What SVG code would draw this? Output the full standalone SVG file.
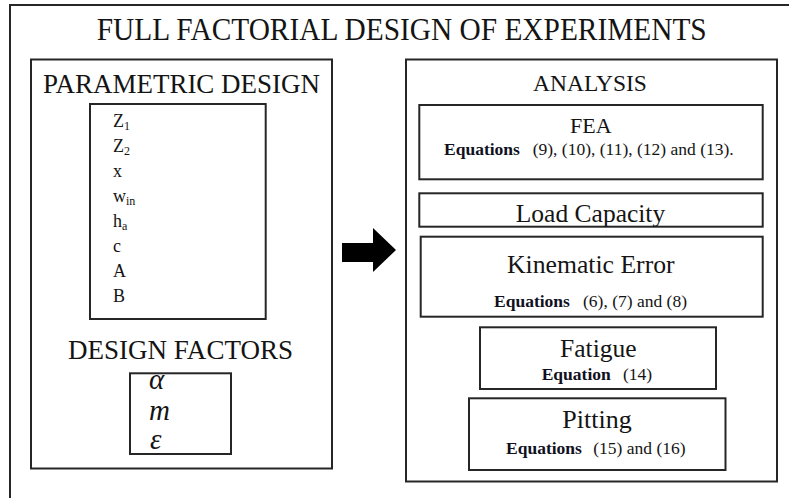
<svg xmlns="http://www.w3.org/2000/svg" width="789" height="498" viewBox="0 0 789 498">
<style>
.box{fill:none;stroke:#262626;stroke-width:2}
text{font-family:'Liberation Serif','Tinos','Times New Roman','DejaVu Serif',serif;fill:#141414}
.c{text-anchor:middle}
.b{font-weight:bold;fill:#10101e}
.eq{font-size:17.5px}
.p{font-size:18px}
.s{font-size:12px}
.g{font-style:italic;font-size:29px}
</style>
<rect width="789" height="498" fill="#ffffff"/>
<g id="frame">
<path class="box" d="M10,500 V5 H792"/>
<text class="c" x="401.7" y="39.5" font-size="31" textLength="610" lengthAdjust="spacingAndGlyphs">FULL FACTORIAL DESIGN OF EXPERIMENTS</text>
</g>
<g id="left-panel">
<rect class="box" x="31" y="59.5" width="301" height="409"/>
<text class="c" x="181.5" y="93.3" font-size="27" textLength="277" lengthAdjust="spacingAndGlyphs">PARAMETRIC DESIGN</text>
</g>
<g id="parameters">
<rect class="box" x="90" y="104" width="175.7" height="215"/>
<text class="p" x="113" y="127">Z<tspan class="s" dy="3">1</tspan></text>
<text class="p" x="113" y="152">Z<tspan class="s" dy="3">2</tspan></text>
<text class="p" x="113" y="177">x</text>
<text class="p" x="113" y="202">w<tspan class="s" dy="3">in</tspan></text>
<text class="p" x="113" y="227">h<tspan class="s" dy="3">a</tspan></text>
<text class="p" x="113" y="252">c</text>
<text class="p" x="113" y="277">A</text>
<text class="p" x="113" y="302">B</text>
</g>
<g id="design-factors">
<text class="c" x="180.5" y="359" font-size="27" textLength="225" lengthAdjust="spacingAndGlyphs">DESIGN FACTORS</text>
<rect class="box" x="130" y="373.3" width="101" height="80.7"/>
<text class="g" x="149" y="389">α</text>
<text class="g" x="149" y="420">m</text>
<text class="g" x="150" y="449">ε</text>
</g>
<g id="connectors">
<polygon points="342,243 373,243 373,228 396,250 373,272 373,262 342,262" fill="#000"/>
</g>
<g id="analysis">
<rect class="box" x="406" y="59.5" width="371" height="422"/>
<text class="c" x="590" y="90.7" font-size="23.5">ANALYSIS</text>
</g>
<g id="fea">
<rect class="box" x="419.3" y="105" width="343.4" height="74.3"/>
<text class="c" x="590.8" y="132.7" font-size="22">FEA</text>
<text class="eq b" x="444" y="155">Equations</text>
<text class="eq" x="532.7" y="155">(9), (10), (11), (12) and (13).</text>
</g>
<g id="load-capacity">
<rect class="box" x="419.3" y="193.3" width="343.4" height="33.4"/>
<text class="c" x="590.5" y="221.5" font-size="25.5">Load Capacity</text>
</g>
<g id="kinematic-error">
<rect class="box" x="420.7" y="236.7" width="342" height="80"/>
<text class="c" x="590.8" y="272.7" font-size="25.7">Kinematic Error</text>
<text class="eq b" x="494" y="306.7">Equations</text>
<text class="eq" x="583" y="306.7">(6), (7) and (8)</text>
</g>
<g id="fatigue">
<rect class="box" x="480" y="327.3" width="236" height="61.7"/>
<text class="c" x="598.3" y="356.7" font-size="25.5">Fatigue</text>
<text class="eq b" x="541.7" y="380">Equation</text>
<text class="eq" x="623" y="380">(14)</text>
</g>
<g id="pitting">
<rect class="box" x="469" y="398.3" width="256.5" height="71.7"/>
<text class="c" x="597" y="428.3" font-size="26">Pitting</text>
<text class="eq b" x="506" y="454.3">Equations</text>
<text class="eq" x="593.3" y="454.3">(15) and (16)</text>
</g>
</svg>
